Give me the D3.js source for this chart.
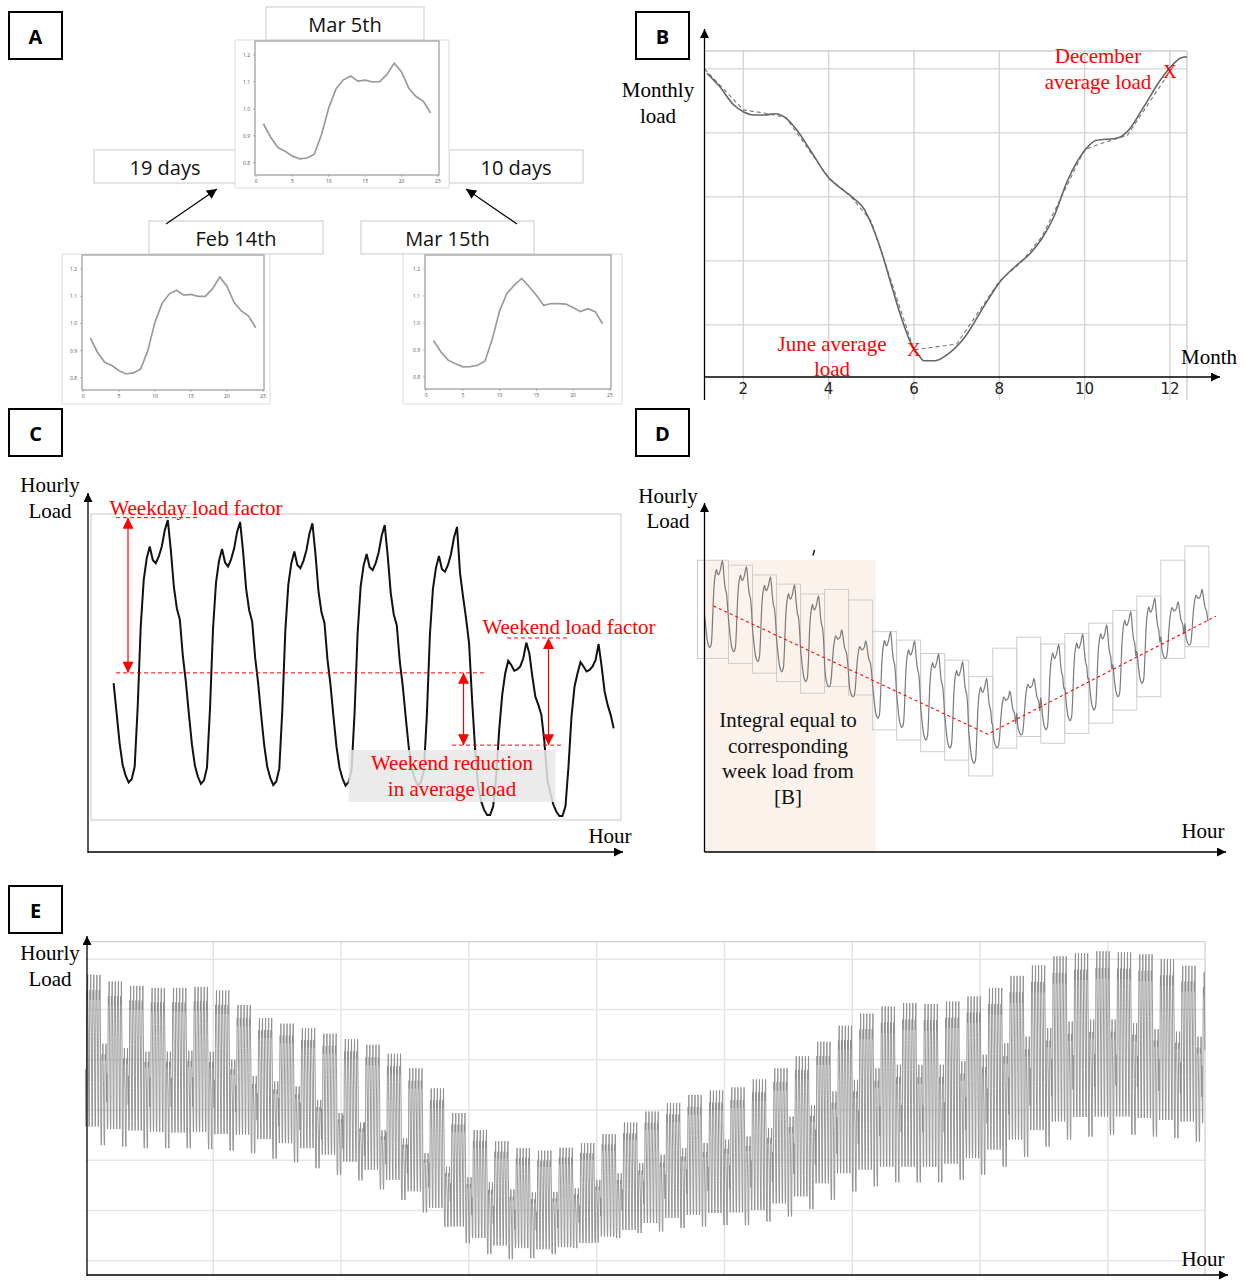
<!DOCTYPE html>
<html>
<head>
<meta charset="utf-8">
<script src="https://cdn.jsdelivr.net/npm/d3@7"></script>
<style>
  body { margin: 0; background: #fff; }
  svg { display: block; }
</style>
</head>
<body>
<svg id="fig" width="1247" height="1282"></svg>
<script>
// ---------------- data ----------------
// A: normalised daily load profiles (hour 1..24)
const profileHours = [1,2,3,4,5,6,7,8,9,10,11,12,13,14,15,16,17,18,19,20,21,22,23,24];
const loadMar5  = [0.945,0.895,0.857,0.843,0.825,0.815,0.818,0.832,0.905,1.005,1.075,1.108,1.122,1.103,1.107,1.100,1.101,1.128,1.170,1.137,1.077,1.046,1.028,0.985];
const loadFeb14 = [0.947,0.894,0.857,0.845,0.826,0.814,0.818,0.832,0.900,1.005,1.075,1.109,1.122,1.104,1.107,1.100,1.100,1.128,1.171,1.137,1.077,1.046,1.027,0.984];
const loadMar15 = [0.935,0.893,0.862,0.849,0.837,0.838,0.843,0.858,0.940,1.045,1.110,1.140,1.165,1.135,1.103,1.065,1.072,1.072,1.070,1.057,1.042,1.053,1.042,0.997];
const miniTicksX = [0,5,10,15,20,25];
const miniTicksY = [0.8,0.9,1.0,1.1,1.2];
const profileTitles = ['Mar 5th','Feb 14th','Mar 15th'];
const gapLabels = ['19 days','10 days'];

// B: monthly load (smooth curve) and monthly averages (dashed)
const monthTicks = [2,4,6,8,10,12];
const monthlyGrid = [1,2,3,4,5];
const monthlyCurve = [
  [1.15,4.93],[1.45,4.72],[1.77,4.44],[2.0,4.33],[2.23,4.28],[2.5,4.28],[2.74,4.30],[3.02,4.22],
  [3.25,4.05],[3.57,3.73],[4.01,3.29],[4.27,3.14],[4.58,2.98],[4.82,2.82],[5.01,2.56],[5.25,2.12],
  [5.48,1.60],[5.72,1.08],[5.91,0.74],[6.11,0.53],[6.23,0.44],[6.5,0.44],[6.77,0.53],[7.17,0.79],
  [7.64,1.29],[8.0,1.66],[8.42,1.94],[8.73,2.12],[9.0,2.35],[9.28,2.69],[9.59,3.24],[10.02,3.74],
  [10.26,3.88],[10.77,3.92],[11.0,4.02],[11.39,4.41],[11.78,4.83],[12.1,5.09],[12.25,5.17],[12.40,5.19]
];
const monthlyAvg = [
  [1.09,5.00],[2,4.36],[2.5,4.31],[3,4.24],[4,3.30],[4.5,3.02],[5,2.62],[6,0.61],[7,0.70],
  [8,1.68],[8.5,1.97],[9,2.38],[10,3.74],[10.5,3.86],[11,3.96],[12,4.96]
];
const juneAvg = monthlyAvg.find(d => d[0] === 6);
const decemberAvg = monthlyAvg.find(d => d[0] === 12);

// C: one week of hourly load (Mon..Sun)
const weekLoad = [
  47.7,39.3,30.8,24.8,21.7,19.8,20.7,24.3,41.1,63.6,76.7,82.8,86.1,82.3,81.4,83.3,86.1,90.7,93.5,85.1,74.8,68.7,65.5,55.2,
  48.0,39.0,30.5,24.5,21.4,19.4,20.4,24.0,40.5,63.0,76.0,82.1,85.4,81.6,80.5,82.5,85.5,90.2,93.0,84.5,74.2,68.2,65.0,54.8,
  47.6,38.6,30.2,24.2,21.1,19.1,20.1,23.7,40.0,62.4,75.4,81.4,84.7,80.9,80.0,82.0,85.0,89.7,92.6,84.0,73.6,67.6,64.6,54.3,
  47.2,38.2,29.8,23.9,20.9,18.9,19.9,23.4,39.5,61.8,74.8,80.8,84.0,80.3,79.5,81.4,84.5,89.2,92.1,83.4,73.0,67.0,64.0,53.8,
  46.8,37.9,29.5,23.7,20.8,18.9,19.9,23.2,39.0,61.3,74.2,80.1,83.4,79.7,79.0,80.9,84.0,88.6,91.6,78.6,72.0,65.9,58.9,43.0,
  29.4,18.7,14.5,12.1,10.7,10.7,13.1,21.5,34.6,44.4,50.5,54.0,52.8,51.2,51.6,52.4,54.7,59.1,56.1,49.6,43.9,41.6,38.8,31.3,
  20.5,16.8,13.5,11.6,10.4,10.4,13.1,24.3,38.3,46.7,50.5,53.6,52.4,51.0,51.4,52.4,54.2,58.7,52.4,45.3,41.6,38.8,35.0
];
const weekdayPeak = 94.2, weekdayAvg = 50.6, weekendPeak = 60.4, weekendAvg = 30.3;

// D: day-by-day envelopes over three weeks, with their weekly load steps
const dayKindD   = ['wd','wd','wd','wd','wd','we','we','wd','wd','wd','wd','wd','we','we','wd','wd','wd','wd','wd','we','we'];
const dayPeakD   = [82.8,81.1,78.2,75.9,72.8,63.1,60.0,62.6,60.0,56.3,54.1,49.3,45.7,49.3,59.0,61.9,64.5,68.3,72.1,71.1,74.6];
const dayLowD    = [58.1,56.9,54.1,51.2,48.4,47.0,44.1,38.0,35.4,31.8,29.5,25.2,29.7,33.3,34.7,37.3,40.3,44.1,47.9,55.0,58.8];
const stepTopD   = [82.9,81.5,78.7,76.1,73.3,74.6,71.6,62.6,60.2,56.4,54.5,49.8,57.9,61.0,59.1,62.1,65.0,68.6,72.7,82.9,86.9];
const stepBaseD  = [55.0,53.6,50.8,48.4,45.1,47.0,44.6,34.7,31.8,28.5,26.1,21.6,29.5,32.8,30.9,33.7,36.6,40.3,44.1,55.0,58.3];
const trendD     = [[9,69.9],[283,33.5],[511,67.0]];

// E: weekly envelopes of the hourly load over a year
const weekdayHighE = [56.9,55.6,54.7,54.3,54.3,54.5,53.8,50.9,48.3,47.2,46.3,45.2,44.1,43.0,41.2,38.3,34.3,29.4,26.0,23.8,22.4,21.9,22.5,23.4,25.2,27.5,29.7,31.4,33.0,33.9,34.5,36.1,38.3,40.7,43.6,46.8,49.2,50.6,51.3,51.1,51.6,52.6,54.3,56.7,58.8,60.6,61.2,61.6,61.4,61.0,60.0,58.7,57.5];
const weekdayLowE  = [26.7,26.2,25.9,25.6,25.5,25.6,25.2,25.1,24.2,23.4,22.4,21.1,19.7,18.1,16.1,13.8,10.5,6.8,4.5,3.0,2.5,2.3,2.7,3.5,4.8,6.1,7.5,8.5,9.1,9.5,9.6,10.1,11.4,12.8,15.4,17.4,18.1,18.7,18.7,18.7,19.3,20.4,22.1,24.1,26.0,27.7,28.6,28.7,28.7,28.4,28.0,27.7,27.4];
const weekendHighE = [43.2,42.3,41.6,41.6,41.8,41.6,40.0,36.8,35.7,34.7,32.0,29.4,27.5,26.0,24.4,21.4,18.7,16.6,15.6,14.2,13.6,13.7,14.4,16.1,17.4,19.4,21.1,22.4,23.4,24.1,24.7,26.4,28.7,31.0,33.7,36.0,38.3,39.0,39.0,39.0,39.7,41.0,43.3,44.6,46.3,47.6,48.0,48.0,47.3,46.1,45.6,44.6];
const weekendLowE  = [23.0,22.7,22.4,22.4,22.4,22.2,21.9,21.4,20.3,19.6,18.4,17.1,16.0,14.2,12.1,9.6,6.7,3.5,1.3,0.3,0.5,1.3,2.5,3.6,4.5,5.5,5.8,6.5,6.8,7.1,7.1,7.8,8.8,10.3,12.1,13.8,14.8,15.6,15.6,15.6,16.1,17.1,18.7,20.7,22.7,24.1,24.7,25.1,25.1,24.7,24.4,23.7];
const gridHoursE = [1000,2000,3000,4000,5000,6000,7000,8000];
const gridLoadE  = [0,10,20,30,40,50,60];

// ---------------- drawing ----------------
const svg = d3.select('#fig');
const SERIF = '"Liberation Serif","Times New Roman",serif';
const SANS = '"Open Sans","DejaVu Sans",sans-serif';
const RED = '#ff0000';

const defs = svg.append('defs');
function addMarker(id, color, w, h) {
  defs.append('marker').attr('id', id)
    .attr('viewBox', '0 0 10 10').attr('refX', 10).attr('refY', 5)
    .attr('markerWidth', w).attr('markerHeight', h)
    .attr('markerUnits', 'userSpaceOnUse').attr('orient', 'auto-start-reverse')
    .append('path').attr('d', 'M0,0L10,5L0,10z').attr('fill', color);
}
addMarker('axisHead', '#000', 11, 9);
addMarker('redHead', RED, 12, 11);
addMarker('blackHead', '#000', 11, 10);

function arrowLine(x1, y1, x2, y2, opts = {}) {
  const l = svg.append('line').attr('x1', x1).attr('y1', y1).attr('x2', x2).attr('y2', y2)
    .attr('stroke', opts.color || '#000').attr('stroke-width', opts.width || 1.3);
  if (opts.end !== false) l.attr('marker-end', `url(#${opts.marker || 'axisHead'})`);
  if (opts.start) l.attr('marker-start', `url(#${opts.marker || 'axisHead'})`);
  if (opts.dash) l.attr('stroke-dasharray', opts.dash);
  return l;
}
function text(x, y, str, opts = {}) {
  return svg.append('text').attr('x', x).attr('y', y)
    .attr('text-anchor', opts.anchor || 'middle')
    .attr('dominant-baseline', 'central')
    .attr('font-family', opts.family || SERIF)
    .attr('font-size', opts.size || 21)
    .attr('font-weight', opts.weight || 400)
    .attr('fill', opts.fill || '#000')
    .text(str);
}
function panelTag(x, y, letter) {
  svg.append('rect').attr('x', x).attr('y', y).attr('width', 53).attr('height', 47)
    .attr('fill', '#fff').attr('stroke', '#000').attr('stroke-width', 2);
  text(x + 26.5, y + 24, letter, { family: SANS, weight: 700, size: 20 });
}

// ===== Panel A: matching daily profiles =====
function labelBox(x, y, w, h, str) {
  svg.append('rect').attr('x', x).attr('y', y).attr('width', w).attr('height', h)
    .attr('fill', '#fff').attr('stroke', '#c8c8c8').attr('stroke-width', 1);
  text(x + w / 2, y + h / 2 + 1, str, { family: SANS, size: 20, fill: '#111' });
}
function miniChart(box, frame, values) {
  const g = svg.append('g');
  g.append('rect').attr('x', box[0]).attr('y', box[1])
    .attr('width', box[2] - box[0]).attr('height', box[3] - box[1])
    .attr('fill', '#fff').attr('stroke', '#dcdcdc');
  const x = d3.scaleLinear().domain([-0.15, 25.15]).range([frame[0], frame[2]]);
  const y = d3.scaleLinear().domain([0.755, 1.252]).range([frame[3], frame[1]]);
  g.append('rect').attr('x', frame[0]).attr('y', frame[1])
    .attr('width', frame[2] - frame[0]).attr('height', frame[3] - frame[1])
    .attr('fill', 'none').attr('stroke', '#a0a0a0').attr('stroke-width', 1.3);
  g.selectAll('.ty').data(miniTicksY).join('text')
    .attr('x', frame[0] - 5).attr('y', d => y(d)).attr('text-anchor', 'end')
    .attr('dominant-baseline', 'central').attr('font-family', SANS).attr('font-size', 5)
    .attr('fill', '#555').text(d => d3.format('.1f')(d));
  g.selectAll('.tyl').data(miniTicksY).join('line')
    .attr('x1', frame[0] - 2).attr('x2', frame[0]).attr('y1', d => y(d)).attr('y2', d => y(d))
    .attr('stroke', '#888').attr('stroke-width', 0.6);
  g.selectAll('.tx').data(miniTicksX).join('text')
    .attr('x', d => x(d)).attr('y', frame[3] + 6).attr('text-anchor', 'middle')
    .attr('dominant-baseline', 'central').attr('font-family', SANS).attr('font-size', 5)
    .attr('fill', '#555').text(d => d);
  g.selectAll('.txl').data(miniTicksX).join('line')
    .attr('x1', d => x(d)).attr('x2', d => x(d)).attr('y1', frame[3]).attr('y2', frame[3] + 2)
    .attr('stroke', '#888').attr('stroke-width', 0.6);
  g.append('path')
    .attr('d', d3.line().x((d, i) => x(profileHours[i])).y(d => y(d))(values))
    .attr('fill', 'none').attr('stroke', '#9b9b9b').attr('stroke-width', 1.7);
}

panelTag(9, 12, 'A');
labelBox(94, 150, 142, 33, gapLabels[0]);
labelBox(449, 150, 134, 33, gapLabels[1]);
labelBox(266, 7, 158, 33, profileTitles[0]);
miniChart([235, 40, 449, 188], [255, 41, 439, 175], loadMar5);
labelBox(149, 221, 174, 33, profileTitles[1]);
labelBox(361, 221, 173, 33, profileTitles[2]);
miniChart([62, 254, 270, 404], [82, 255, 264, 390], loadFeb14);
miniChart([403, 254, 622, 404], [425, 255, 611, 389], loadMar15);
arrowLine(166, 224, 217, 189, { marker: 'blackHead', width: 1.2 });
arrowLine(517, 224, 466, 189, { marker: 'blackHead', width: 1.2 });

// ===== Panel B: monthly load =====
panelTag(636, 12, 'B');
{
  const xB = d3.scaleLinear().domain([1.09, 12.40]).range([704.5, 1187]);
  const yB = d3.scaleLinear().domain([0.19, 5.28]).range([376.7, 51]);
  const g = svg.append('g');
  g.selectAll('.gv').data(monthTicks).join('line')
    .attr('x1', d => xB(d)).attr('x2', d => xB(d)).attr('y1', yB(5.28)).attr('y2', 400)
    .attr('stroke', '#d4d4d4').attr('stroke-width', 1.4);
  g.selectAll('.gh').data(monthlyGrid).join('line')
    .attr('x1', xB(1.09)).attr('x2', xB(12.4)).attr('y1', d => yB(d)).attr('y2', d => yB(d))
    .attr('stroke', '#d4d4d4').attr('stroke-width', 1.4);
  g.append('line').attr('x1', xB(1.09)).attr('x2', xB(12.4)).attr('y1', yB(5.28)).attr('y2', yB(5.28))
    .attr('stroke', '#cfcfcf').attr('stroke-width', 1.4);
  g.append('line').attr('x1', xB(12.4)).attr('x2', xB(12.4)).attr('y1', yB(5.28)).attr('y2', 400)
    .attr('stroke', '#cfcfcf').attr('stroke-width', 1.4);
  g.selectAll('.tk').data(monthTicks).join('text')
    .attr('x', d => xB(d)).attr('y', 389).attr('text-anchor', 'middle')
    .attr('dominant-baseline', 'central').attr('font-family', '"DejaVu Sans",sans-serif')
    .attr('font-size', 15).attr('fill', '#222').text(d => d);
  g.append('path').attr('d', d3.line().x(d => xB(d[0])).y(d => yB(d[1]))(monthlyAvg))
    .attr('fill', 'none').attr('stroke', '#777').attr('stroke-width', 1.1).attr('stroke-dasharray', '4,3');
  g.append('path').attr('d', d3.line().curve(d3.curveMonotoneX).x(d => xB(d[0])).y(d => yB(d[1]))(monthlyCurve))
    .attr('fill', 'none').attr('stroke', '#666').attr('stroke-width', 1.6);
  arrowLine(704.5, 400, 704.5, 29);
  arrowLine(704.5, 377, 1220, 377);
  text(658, 90, 'Monthly');
  text(658, 116, 'load');
  text(1209, 357, 'Month');
  text(1098, 56, 'December', { fill: RED });
  text(1098, 82, 'average load', { fill: RED });
  text(xB(decemberAvg[0]), yB(decemberAvg[1]), 'X', { fill: RED, size: 19 });
  text(832, 344, 'June average', { fill: RED });
  text(832, 369, 'load', { fill: RED });
  text(xB(juneAvg[0]), yB(juneAvg[1]), 'X', { fill: RED, size: 19 });
}

// ===== Panel C: weekday / weekend load factors =====
panelTag(9, 409, 'C');
{
  const xC = d3.scaleLinear().domain([0, 168]).range([113.6, 619.7]);
  const yC = d3.scaleLinear().domain([0, 100]).range([853, 497]);
  svg.append('rect').attr('x', 91).attr('y', 514).attr('width', 530).attr('height', 306)
    .attr('fill', 'none').attr('stroke', '#d0d0d0').attr('stroke-width', 1.2);
  svg.append('path').attr('d', d3.line().x((d, i) => xC(i)).y(d => yC(d))(weekLoad))
    .attr('fill', 'none').attr('stroke', '#111').attr('stroke-width', 2);
  const dash = '4,3';
  const hl = (x1, x2, v) => svg.append('line').attr('x1', x1).attr('x2', x2)
    .attr('y1', yC(v)).attr('y2', yC(v)).attr('stroke', RED).attr('stroke-width', 1).attr('stroke-dasharray', dash);
  hl(116, 197, weekdayPeak);
  hl(116, 487, weekdayAvg);
  hl(452, 561, weekendAvg);
  hl(507, 567, weekendPeak);
  arrowLine(128, yC(weekdayPeak), 128, yC(weekdayAvg), { color: RED, marker: 'redHead', start: true, width: 1.2 });
  arrowLine(463.5, yC(weekdayAvg), 463.5, yC(weekendAvg), { color: RED, marker: 'redHead', start: true, width: 1.2 });
  arrowLine(548.5, yC(weekendPeak), 548.5, yC(weekendAvg), { color: RED, marker: 'redHead', start: true, width: 1.2 });
  svg.append('rect').attr('x', 348.5).attr('y', 750).attr('width', 207).attr('height', 52)
    .attr('fill', '#e8e8e8').attr('opacity', 0.85);
  text(452, 763, 'Weekend reduction', { fill: RED });
  text(452, 789, 'in average load', { fill: RED });
  text(196, 508, 'Weekday load factor', { fill: RED });
  text(569, 627, 'Weekend load factor', { fill: RED });
  arrowLine(88, 853, 88, 493);
  arrowLine(88, 852, 623, 852);
  text(50, 485, 'Hourly');
  text(50, 511, 'Load');
  text(610, 836, 'Hour');
}

// shared normalised daily shapes (weekday = Monday, weekend = Saturday of the week above)
function normalise(arr) {
  const lo = d3.min(arr), hi = d3.max(arr);
  return arr.map(v => (v - lo) / (hi - lo));
}
const weekdayShape = normalise(weekLoad.slice(0, 24));
const weekendShape = normalise(weekLoad.slice(120, 144));

// ===== Panel D: daily profiles scaled to weekly load =====
panelTag(636, 409, 'D');
{
  const xD = d3.scaleLinear().domain([0, 504]).range([704.5, 1208.9]);
  const yD = d3.scaleLinear().domain([0, 100]).range([852, 500]);
  svg.append('rect').attr('x', 704.5).attr('y', 560).attr('width', 876 - 704.5).attr('height', 852 - 560)
    .attr('fill', '#fbf2ec');
  const g = svg.append('g');
  g.selectAll('.step').data(stepTopD).join('rect')
    .attr('x', (d, i) => xD(i === 0 ? -7 : i * 24))
    .attr('width', (d, i) => xD((i + 1) * 24) - xD(i === 0 ? -7 : i * 24))
    .attr('y', d => yD(d))
    .attr('height', (d, i) => yD(stepBaseD[i]) - yD(d))
    .attr('fill', 'none').attr('stroke', '#cdcdcd').attr('stroke-width', 1);
  const hourlyD = [];
  dayKindD.forEach((kind, i) => {
    const shape = kind === 'we' ? weekendShape : weekdayShape;
    shape.forEach((s, h) => hourlyD.push([i * 24 + h, dayLowD[i] + s * (dayPeakD[i] - dayLowD[i])]));
  });
  g.append('path').attr('d', d3.line().curve(d3.curveMonotoneX).x(d => xD(d[0])).y(d => yD(d[1]))(hourlyD))
    .attr('fill', 'none').attr('stroke', '#7a7a7a').attr('stroke-width', 1.2);
  g.append('path').attr('d', d3.line().x(d => xD(d[0])).y(d => yD(d[1]))(trendD))
    .attr('fill', 'none').attr('stroke', RED).attr('stroke-width', 1.1).attr('stroke-dasharray', '3,3');
  svg.append('line').attr('x1', 814.5).attr('y1', 550).attr('x2', 813).attr('y2', 555.5)
    .attr('stroke', '#111').attr('stroke-width', 1.4);
  arrowLine(704.5, 852, 704.5, 503);
  arrowLine(704.5, 852, 1226, 852);
  text(668, 496, 'Hourly');
  text(668, 521, 'Load');
  text(1203, 831, 'Hour');
  text(788, 720, 'Integral equal to', { fill: '#111' });
  text(788, 746, 'corresponding', { fill: '#111' });
  text(788, 771, 'week load from', { fill: '#111' });
  text(788, 797, '[B]', { fill: '#111' });
}

// ===== Panel E: full-year hourly load =====
panelTag(9, 886, 'E');
{
  const xE = d3.scaleLinear().domain([0, 8760]).range([85.4, 1205]);
  const yE = d3.scaleLinear().domain([-2.85, 63.5]).range([1275, 941.7]);
  const g = svg.append('g');
  g.selectAll('.gv').data(gridHoursE).join('line')
    .attr('x1', d => xE(d)).attr('x2', d => xE(d)).attr('y1', yE(63.5)).attr('y2', 1275)
    .attr('stroke', '#e2e2e2').attr('stroke-width', 1.4);
  g.selectAll('.gh').data(gridLoadE).join('line')
    .attr('x1', xE(0)).attr('x2', xE(8760)).attr('y1', d => yE(d)).attr('y2', d => yE(d))
    .attr('stroke', '#e6e6e6').attr('stroke-width', 1.4);
  g.append('line').attr('x1', xE(0)).attr('x2', xE(8760)).attr('y1', yE(63.5)).attr('y2', yE(63.5))
    .attr('stroke', '#cfcfcf').attr('stroke-width', 1.2);
  g.append('line').attr('x1', xE(8760)).attr('x2', xE(8760)).attr('y1', yE(63.5)).attr('y2', 1275)
    .attr('stroke', '#cfcfcf').attr('stroke-width', 1.2);
  const hourlyE = [];
  for (let d = 0; d < 365; d++) {
    const w = Math.floor(d / 7), weekend = d % 7 >= 5;
    const hi = weekend ? weekendHighE[w] : weekdayHighE[w];
    const lo = weekend ? weekendLowE[w] : weekdayLowE[w];
    const shape = weekend ? weekendShape : weekdayShape;
    shape.forEach((s, h) => hourlyE.push([d * 24 + h, lo + s * (hi - lo)]));
  }
  g.append('path').attr('d', d3.line().x(d => xE(d[0])).y(d => yE(d[1]))(hourlyE))
    .attr('fill', 'none').attr('stroke', '#8c8c8c').attr('stroke-width', 0.9);
  arrowLine(87, 1276, 87, 936);
  arrowLine(87, 1275, 1228, 1275);
  text(50, 953, 'Hourly');
  text(50, 979, 'Load');
  text(1203, 1259, 'Hour');
}
</script>
</body>
</html>
